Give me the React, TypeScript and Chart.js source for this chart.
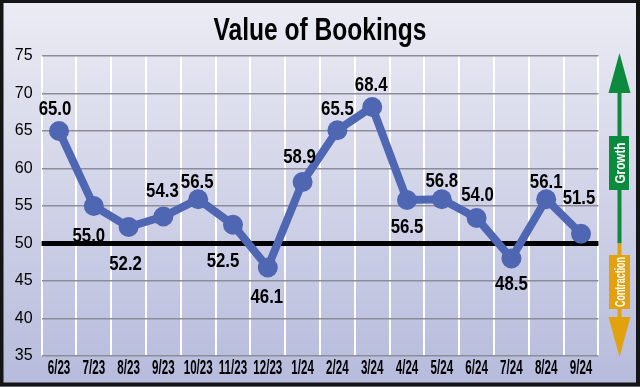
import React, { useEffect, useRef } from "react";
import { Chart, registerables } from "chart.js";

Chart.register(...registerables);

const categories = ["6/23", "7/23", "8/23", "9/23", "10/23", "11/23", "12/23", "1/24", "2/24", "3/24", "4/24", "5/24", "6/24", "7/24", "8/24", "9/24"];
const plottedValues = [65.0, 55.0, 52.2, 53.6, 55.9, 52.5, 46.8, 58.2, 65.1, 68.2, 55.8, 55.9, 53.4, 48.0, 55.9, 51.3];
const valueLabels = ["65.0", "55.0", "52.2", "54.3", "56.5", "52.5", "46.1", "58.9", "65.5", "68.4", "56.5", "56.8", "54.0", "48.5", "56.1", "51.5"];
const yMin = 35;
const yMax = 75;
const yStep = 5;
const baselineValue = 50;
const titleText = "Value of Bookings";
const growthText = "Growth";
const contractionText = "Contraction";

// label nudges (text placement relative to each point), px
const labelNudges: [number, number][] = [
  [-4, -24], [-5, 28], [-3, 35], [-1, -27], [-1, -19], [-10, 35], [-1, 28], [-3, -27],
  [0, -23], [-1, -24], [0, 25], [0, -20], [1, -25], [0, 24], [0, -19], [-2, -37],
];

const SANS = '"Liberation Sans", Arial, Helvetica, sans-serif';
const GREEN = "#0c8a3e";
const ORANGE = "#e2a20e";

function drawCondensed(ctx: CanvasRenderingContext2D, text: string, x: number, y: number, sx: number) {
  ctx.save();
  ctx.translate(x, y);
  ctx.scale(sx, 1);
  ctx.fillText(text, 0, 0);
  ctx.restore();
}

function drawFitted(ctx: CanvasRenderingContext2D, text: string, x: number, y: number, targetW: number) {
  const w = ctx.measureText(text).width;
  drawCondensed(ctx, text, x, y, w > 0 ? targetW / w : 1);
}

const decorPlugin = {
  id: "decor",
  beforeDraw(chart: any) {
    const { ctx, width, height } = chart;
    ctx.save();
    const g = ctx.createLinearGradient(0, 0, 0, height);
    g.addColorStop(0, "#ececf4");
    g.addColorStop(1, "#b6bbdc");
    ctx.fillStyle = g;
    ctx.fillRect(0, 0, width, height);
    ctx.restore();
  },
  beforeDatasetsDraw(chart: any) {
    const { ctx, chartArea, scales } = chart;
    const y = scales.y.getPixelForValue(baselineValue);
    ctx.save();
    ctx.strokeStyle = "#000";
    ctx.lineWidth = 5;
    ctx.beginPath();
    ctx.moveTo(chartArea.left, y);
    ctx.lineTo(chartArea.right, y);
    ctx.stroke();
    ctx.restore();
  },
  afterDatasetsDraw(chart: any) {
    const { ctx, scales, width, height, chartArea } = chart;
    const meta = chart.getDatasetMeta(0);
    ctx.save();
    ctx.fillStyle = "#000";
    ctx.textAlign = "center";
    ctx.textBaseline = "alphabetic";

    // x tick labels (condensed), placed by the category scale
    const xs = scales.x;
    ctx.font = `bold 20px ${SANS}`;
    xs.ticks.forEach((t: any, i: number) => {
      const px = xs.getPixelForTick(i);
      drawCondensed(ctx, xs.getLabelForValue(t.value), px, chartArea.bottom + 18, 0.58);
    });

    // data labels
    ctx.font = `bold 21px ${SANS}`;
    meta.data.forEach((pt: any, i: number) => {
      const [dx, dy] = labelNudges[i] || [0, -24];
      drawCondensed(ctx, valueLabels[i], pt.x + dx, pt.y + dy + 7.5, 0.8);
    });

    // title
    ctx.font = `bold 31px ${SANS}`;
    drawFitted(ctx, titleText, width / 2, 40, 213);

    // growth / contraction arrow
    const yTop = scales.y.getPixelForValue(yMax);
    const yBot = scales.y.getPixelForValue(yMin);
    const yMid = scales.y.getPixelForValue(baselineValue);
    const ax = 619.5;
    const hw = 11;
    const headLen = 40;
    ctx.lineWidth = 4;
    ctx.strokeStyle = GREEN;
    ctx.beginPath();
    ctx.moveTo(ax, yTop + 20);
    ctx.lineTo(ax, yMid);
    ctx.stroke();
    ctx.fillStyle = GREEN;
    ctx.beginPath();
    ctx.moveTo(ax, yTop - 3);
    ctx.lineTo(ax + hw, yTop - 3 + headLen);
    ctx.lineTo(ax - hw, yTop - 3 + headLen);
    ctx.closePath();
    ctx.fill();
    ctx.fillRect(609, 136, 20, 54);

    ctx.strokeStyle = ORANGE;
    ctx.beginPath();
    ctx.moveTo(ax, yMid);
    ctx.lineTo(ax, yBot - 20);
    ctx.stroke();
    ctx.fillStyle = ORANGE;
    ctx.beginPath();
    ctx.moveTo(ax, yBot + 1);
    ctx.lineTo(ax + hw, yBot + 1 - headLen);
    ctx.lineTo(ax - hw, yBot + 1 - headLen);
    ctx.closePath();
    ctx.fill();
    ctx.fillRect(609, 255, 21, 54);

    ctx.fillStyle = "#fff";
    ctx.font = `bold 15px ${SANS}`;
    ctx.textBaseline = "middle";
    ctx.save();
    ctx.translate(619.5, 163);
    ctx.rotate(-Math.PI / 2);
    drawFitted(ctx, growthText, 0, 1, 41);
    ctx.restore();
    ctx.save();
    ctx.translate(619.5, 282);
    ctx.rotate(-Math.PI / 2);
    drawFitted(ctx, contractionText, 0, 1, 50);
    ctx.restore();

    // frame
    ctx.strokeStyle = "#151515";
    ctx.lineWidth = 4;
    ctx.strokeRect(1.5, 1, width - 3.5, height - 3.5);
    ctx.restore();
  },
};

export default function App() {
  const canvasRef = useRef<HTMLCanvasElement | null>(null);

  useEffect(() => {
    document.body.style.margin = "0";
    const canvas = canvasRef.current;
    if (!canvas) return;
    const chart = new Chart(canvas, {
      type: "line",
      data: {
        labels: categories,
        datasets: [
          {
            data: plottedValues,
            borderColor: "#4f66b2",
            backgroundColor: "#4f66b2",
            borderWidth: 8,
            pointRadius: 10,
            pointHoverRadius: 10,
            pointBackgroundColor: "#4f66b2",
            pointBorderWidth: 0,
            tension: 0,
          },
        ],
      },
      options: {
        animation: false,
        responsive: true,
        maintainAspectRatio: false,
        devicePixelRatio: 1,
        layout: { padding: { left: 0, right: 41.6, top: 56, bottom: 0 } },
        plugins: {
          legend: { display: false },
          title: { display: false },
          tooltip: { enabled: false },
        },
        scales: {
          x: {
            offset: true,
            grid: { offset: true, color: "#ffffff", lineWidth: 2, drawTicks: false },
            border: { display: false },
            ticks: {
              color: "rgba(0,0,0,0)",
              font: { family: SANS, size: 10 },
              padding: 2,
              maxRotation: 0,
              autoSkip: false,
            },
            afterFit(scale: any) {
              scale.height = 31;
            },
          },
          y: {
            min: yMin,
            max: yMax,
            grid: { color: "#8c8c9a", lineWidth: 1.5, drawTicks: false },
            border: { display: false },
            ticks: {
              stepSize: yStep,
              color: "#000",
              font: { family: SANS, size: 16 },
              padding: 9,
            },
            afterFit(scale: any) {
              scale.width = 41.6;
            },
          },
        },
      },
      plugins: [decorPlugin],
    });
    return () => chart.destroy();
  }, []);

  return (
    <div style={{ position: "fixed", left: 0, top: 0, width: 640, height: 387 }}>
      <canvas ref={canvasRef} />
    </div>
  );
}
